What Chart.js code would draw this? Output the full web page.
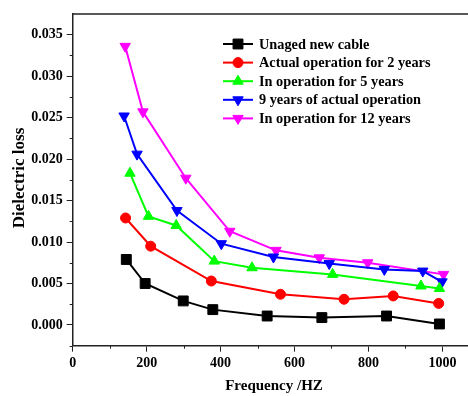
<!DOCTYPE html>
<html>
<head>
<meta charset="utf-8">
<script src="https://cdn.jsdelivr.net/npm/chart.js@4/dist/chart.umd.min.js"></script>
<style>
  html, body { margin: 0; padding: 0; background: #fff; overflow: hidden; }
  #wrap { width: 468px; height: 396px; overflow: hidden; }
</style>
</head>
<body>
<!-- el lienzo es un poco mas ancho: Chart.js reserva margen para los marcadores y el eje
     del original llega hasta el borde derecho -->
<div id="wrap"><canvas id="chartLoss" width="477" height="396"></canvas></div>
<script>
// Datos
const seriesNames = ['Unaged new cable', 'Actual operation for 2 years', 'In operation for 5 years',
                     '9 years of actual operation', 'In operation for 12 years'];

const freqNew = [145, 196, 299, 379, 526, 674, 849, 992];
const lossNew = [0.0079, 0.0050, 0.0029, 0.00185, 0.00108, 0.00089, 0.00108, 0.00012];

const freq2y = [143, 211, 375, 562, 734, 867, 990];
const loss2y = [0.0129, 0.0095, 0.0053, 0.0037, 0.0031, 0.0035, 0.0026];

const freq5y = [155, 205, 280, 383, 485, 703, 942, 992];
const loss5y = [0.0183, 0.0131, 0.0120, 0.0077, 0.0069, 0.0061, 0.0047, 0.0044];

const freq9y = [139, 174, 282, 402, 543, 694, 843, 947, 999];
const loss9y = [0.0252, 0.0206, 0.0138, 0.0098, 0.0082, 0.0074, 0.0067, 0.0065, 0.0052];

const freq12y = [142, 190, 306, 425, 550, 667, 798, 1003];
const loss12y = [0.0336, 0.0257, 0.0177, 0.0113, 0.0090, 0.0081, 0.0075, 0.0061];

const xTicks = [0, 200, 400, 600, 800, 1000];
const yTicks = [0, 0.005, 0.010, 0.015, 0.020, 0.025, 0.030, 0.035];

const xTitle = 'Frequency /HZ';
const yTitle = 'Dielectric loss';

const FUENTE = "'Liberation Serif', 'Times New Roman', serif";
const EJE = '#222';

const estilos = [
    { color: '#000000', punto: 'rect', radio: 7, rot: 0 },
    { color: '#ff0000', punto: 'circle', radio: 5, rot: 0 },
    { color: '#00ff00', punto: 'triangle', radio: 6, rot: 0 },
    { color: '#0000ff', punto: 'triangle', radio: 6, rot: 180 },
    { color: '#ff00ff', punto: 'triangle', radio: 6, rot: 180 }
];

const pares = (xs, ys) => xs.map((x, i) => ({ x: x, y: ys[i] }));
const datos = [pares(freqNew, lossNew), pares(freq2y, loss2y), pares(freq5y, loss5y),
               pares(freq9y, loss9y), pares(freq12y, loss12y)];

const datasets = datos.map((d, i) => ({
    label: seriesNames[i],
    data: d,
    borderColor: estilos[i].color,
    backgroundColor: estilos[i].color,
    borderWidth: 2,
    pointStyle: estilos[i].punto,
    pointRadius: estilos[i].radio,
    pointRotation: estilos[i].rot,
    pointBorderWidth: 1,
    tension: 0
}));

// Marco superior, ticks menores, titulos de ejes y leyenda interna
const extras = {
    id: 'extras',
    afterDraw(chart) {
        const ctx = chart.ctx;
        const area = chart.chartArea;
        const sx = chart.scales.x, sy = chart.scales.y;
        ctx.save();
        ctx.strokeStyle = EJE;
        ctx.lineWidth = 1.5;
        ctx.beginPath();
        ctx.moveTo(area.left, area.top);
        ctx.lineTo(area.right, area.top);
        ctx.stroke();

        ctx.lineWidth = 1;
        ctx.beginPath();
        for (let v = 100; v < sx.max; v += 200) {
            const px = Math.round(sx.getPixelForValue(v)) + 0.5;
            ctx.moveTo(px, area.bottom);
            ctx.lineTo(px, area.bottom + 3);
        }
        for (let v = -0.0025; v < sy.max; v += 0.005) {
            const py = Math.round(sy.getPixelForValue(v)) + 0.5;
            ctx.moveTo(area.left, py);
            ctx.lineTo(area.left - 3, py);
        }
        ctx.stroke();

        ctx.fillStyle = '#000';
        ctx.textAlign = 'center';
        ctx.textBaseline = 'middle';
        ctx.font = 'bold 15px ' + FUENTE;
        ctx.fillText(xTitle, 274, 386);
        ctx.translate(20, 178);
        ctx.rotate(-Math.PI / 2);
        ctx.font = 'bold 17px ' + FUENTE;
        ctx.fillText(yTitle, 0, 0);
        ctx.restore();

        // leyenda
        ctx.save();
        ctx.font = 'bold 14.3px ' + FUENTE;
        ctx.textAlign = 'left';
        ctx.textBaseline = 'middle';
        seriesNames.forEach((nombre, i) => {
            const y = 44 + i * 18.6;
            const e = estilos[i];
            ctx.strokeStyle = e.color;
            ctx.lineWidth = 2;
            ctx.beginPath();
            ctx.moveTo(223, y);
            ctx.lineTo(253, y);
            ctx.stroke();
            ctx.fillStyle = e.color;
            ctx.strokeStyle = e.color;
            ctx.lineWidth = 1;
            Chart.helpers.drawPoint(ctx, { pointStyle: e.punto, radius: e.radio, rotation: e.rot, borderWidth: 1 }, 238, y);
            ctx.fillStyle = '#000';
            ctx.fillText(nombre, 259, y + 1);
        });
        ctx.restore();
    }
};

new Chart(document.getElementById('chartLoss'), {
    type: 'line',
    data: { datasets: datasets },
    options: {
        responsive: false,
        animation: false,
        layout: { padding: { top: 14, right: 0, bottom: 0, left: 0 } },
        plugins: { legend: { display: false }, tooltip: { enabled: false } },
        scales: {
            x: {
                type: 'linear',
                min: 0,
                max: 1072,
                afterBuildTicks: ax => { ax.ticks = xTicks.map(v => ({ value: v })); },
                afterFit: ax => { ax.height = 50.3; },
                border: { color: EJE, width: 1.5 },
                grid: { drawOnChartArea: false, drawTicks: true, tickLength: 6, tickColor: EJE },
                ticks: {
                    color: '#000',
                    padding: 3,
                    maxRotation: 0,
                    font: { family: FUENTE, size: 14, weight: 'bold' },
                    callback: v => String(v)
                }
            },
            y: {
                min: -0.0025,
                max: 0.0375,
                afterBuildTicks: ax => { ax.ticks = yTicks.map(v => ({ value: v })); },
                afterFit: ax => { ax.width = 72.7; },
                border: { color: EJE, width: 1.5 },
                grid: { drawOnChartArea: false, drawTicks: true, tickLength: 6, tickColor: EJE },
                ticks: {
                    color: '#000',
                    padding: 4,
                    font: { family: FUENTE, size: 14, weight: 'bold' },
                    callback: v => Number(v).toFixed(3)
                }
            }
        }
    },
    plugins: [extras]
});
</script>
</body>
</html>
